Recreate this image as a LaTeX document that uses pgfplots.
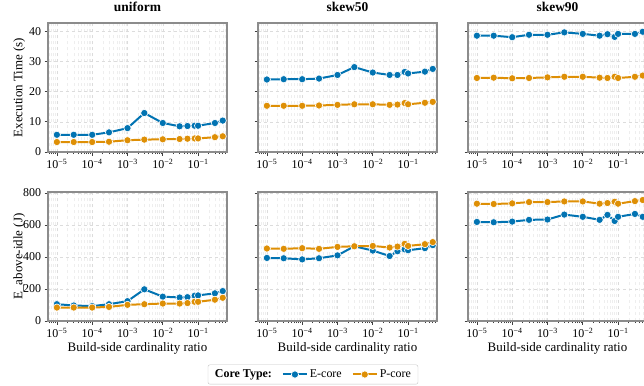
\documentclass[border=0pt]{standalone}
\usepackage{fontspec}
\setmainfont{Liberation Serif}
\usepackage{pgfplots}
\pgfplotsset{compat=1.18}
\usepackage{pgfplotstable}
\definecolor{eblue}{HTML}{0173B2}
\definecolor{porange}{HTML}{DE8F05}
\definecolor{spine}{HTML}{8C8C8C}
\definecolor{gridc}{HTML}{DCDCDC}
\definecolor{gridm}{HTML}{EEEEEE}

\pgfplotstableread{
x     uE   uP   aE   aP   bE   bP
1e-5  5.7  3.3  24.0 15.3 38.5 24.5
3e-5  5.7  3.3  24.1 15.3 38.5 24.6
1e-4  5.7  3.3  24.1 15.3 38.0 24.4
3e-4  6.5  3.4  24.3 15.4 38.8 24.5
1e-3  7.9  3.9  25.5 15.6 38.8 24.7
3e-3  12.9 4.1  28.1 15.8 39.6 24.9
1e-2  9.6  4.2  26.3 15.8 39.1 24.9
3e-2  8.5  4.3  25.5 15.6 38.5 24.6
5e-2  8.6  4.4  25.5 15.7 39.0 24.5
8e-2  8.7  4.5  26.5 16.2 38.1 24.9
1e-1  8.7  4.5  26.0 15.8 39.1 24.5
3e-1  9.6  4.9  26.6 16.3 39.1 24.9
5e-1  10.4 5.2  27.5 16.6 39.8 25.3
}\timetab

\pgfplotstableread{
x     uE   uP   aE   aP   bE   bP
1e-5  105  84   394  453  619  733
3e-5  97   84   392  451  617  731
1e-4  93   84   385  455  621  735
3e-4  105  88   392  451  632  743
1e-3  124  101  410  463  634  743
3e-3  198  105  467  467  665  747
1e-2  152  109  440  469  651  747
3e-2  147  109  406  459  632  733
5e-2  149  112  436  465  663  737
8e-2  158  120  448  482  625  745
1e-1  160  120  442  469  651  733
3e-1  173  133  455  480  669  749
5e-1  187  145  474  493  651  756
}\energytab

\pgfplotsset{
  panel/.style={
    scale only axis, width=179bp, height=129bp, anchor=north west,
    xmin=5.6e-6, xmax=0.66,
    xtick={1e-5,1e-4,1e-3,1e-2,1e-1},
    xticklabels={10\textsuperscript{−5},10\textsuperscript{−4},10\textsuperscript{−3},10\textsuperscript{−2},10\textsuperscript{−1}},
    minor xtick={6e-6,7e-6,8e-6,9e-6,2e-5,3e-5,4e-5,5e-5,6e-5,7e-5,8e-5,9e-5,2e-4,3e-4,4e-4,5e-4,6e-4,7e-4,8e-4,9e-4,2e-3,3e-3,4e-3,5e-3,6e-3,7e-3,8e-3,9e-3,2e-2,3e-2,4e-2,5e-2,6e-2,7e-2,8e-2,9e-2,2e-1,3e-1,4e-1,5e-1,6e-1},
    xmajorgrids, xminorgrids, ymajorgrids,
    major grid style={gridc, dashed, line width=0.5bp},
    minor grid style={gridm, dashed, line width=0.4bp},
    axis line style={spine, line width=1.3bp},
    tick style={black!75, line width=0.7bp},
    tick align=outside, tick pos=left,
    major tick length=3.5bp, minor tick length=2bp,
    xticklabel style={font=\fontsize{12}{14}\selectfont},
    yticklabel style={font=\fontsize{12}{14}\selectfont},
    /pgf/number format/assume math mode=true,
    ymin=0,
    title style={at={(0.5,1)}, anchor=base, yshift=6bp, font=\fontsize{13.5}{15}\selectfont\bfseries},
    every axis y label/.style={at={(-0.16,0.5)}, rotate=90, anchor=center, font=\fontsize{13}{15}\selectfont},
    every axis x label/.style={at={(0.5,-0.21)}, anchor=center, font=\fontsize{13}{15}\selectfont},
  },
  trow/.style={ymax=42.7, ytick={0,10,20,30,40}},
  erow/.style={ymax=806, ytick={0,200,400,600,800}},
  noy/.style={yticklabels={}},
  eline/.style={eblue, line width=2bp, mark=*, mark size=3.6bp, mark options={draw=white, line width=0.6bp, fill=eblue, solid}},
  pline/.style={porange, line width=2bp, mark=*, mark size=3.6bp, mark options={draw=white, line width=0.6bp, fill=porange, solid}},
}

\begin{document}
\begin{tikzpicture}
% Row 1: execution time
\begin{semilogxaxis}[panel, trow, log basis x=10, at={(48bp,-23bp)}, title={uniform}, ylabel={Execution Time (s)}]
\addplot[eline] table[x=x, y=uE] {\timetab};
\addplot[pline] table[x=x, y=uP] {\timetab};
\end{semilogxaxis}
\begin{semilogxaxis}[panel, trow, noy, log basis x=10, at={(258bp,-23bp)}, title={skew50}]
\addplot[eline] table[x=x, y=aE] {\timetab};
\addplot[pline] table[x=x, y=aP] {\timetab};
\end{semilogxaxis}
\begin{semilogxaxis}[panel, trow, noy, log basis x=10, at={(468bp,-23bp)}, title={skew90}]
\addplot[eline] table[x=x, y=bE] {\timetab};
\addplot[pline] table[x=x, y=bP] {\timetab};
\end{semilogxaxis}
% Row 2: energy
\begin{semilogxaxis}[panel, erow, log basis x=10, at={(48bp,-192bp)}, ylabel={E\_above-idle (J)}, xlabel={Build-side cardinality ratio}]
\addplot[eline] table[x=x, y=uE] {\energytab};
\addplot[pline] table[x=x, y=uP] {\energytab};
\end{semilogxaxis}
\begin{semilogxaxis}[panel, erow, noy, log basis x=10, at={(258bp,-192bp)}, xlabel={Build-side cardinality ratio},
  legend style={at={(0.307,-0.338)}, anchor=north, legend columns=3, draw=spine!50, rounded corners=2bp,
    font=\fontsize{12}{14}\selectfont, inner xsep=5bp, inner ysep=3bp,
    /tikz/every even column/.append style={column sep=8bp}},
  legend image code/.code={\draw[#1, mark repeat=2, mark phase=2] plot coordinates {(0bp,0bp) (12bp,0bp) (24bp,0bp)};}]
\addlegendimage{empty legend}
\addlegendentry{\textbf{Core Type:}}
\addplot[eline] table[x=x, y=aE] {\energytab};
\addlegendentry{E-core}
\addplot[pline] table[x=x, y=aP] {\energytab};
\addlegendentry{P-core}
\end{semilogxaxis}
\begin{semilogxaxis}[panel, erow, noy, log basis x=10, at={(468bp,-192bp)}, xlabel={Build-side cardinality ratio}]
\addplot[eline] table[x=x, y=bE] {\energytab};
\addplot[pline] table[x=x, y=bP] {\energytab};
\end{semilogxaxis}
\pgfresetboundingbox
\path[use as bounding box] (0bp,0bp) rectangle (644bp,-386bp);
\end{tikzpicture}
\end{document}
